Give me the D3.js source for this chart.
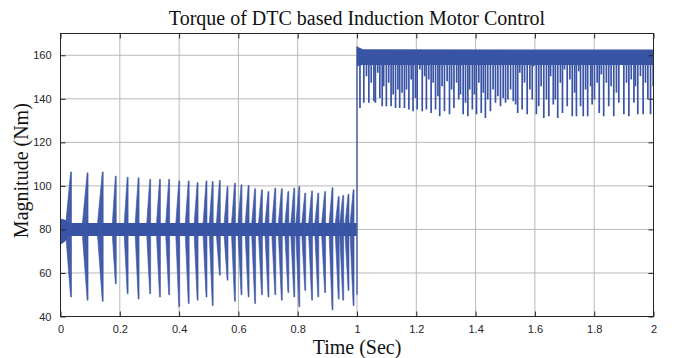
<!DOCTYPE html>
<html>
<head>
<meta charset="utf-8">
<script src="https://cdn.jsdelivr.net/npm/d3@7"></script>
<style>
  html, body { margin: 0; padding: 0; background: #fff; }
  svg { display: block; }
</style>
</head>
<body>
<svg id="chart" width="686" height="358"></svg>
<script>
// ---------------- DATA ----------------
const titleText = "Torque of DTC based Induction Motor Control";
const xLabelText = "Time (Sec)";
const yLabelText = "Magnitude (Nm)";
const xTicks = [0, 0.2, 0.4, 0.6, 0.8, 1, 1.2, 1.4, 1.6, 1.8, 2];
const xTickLabels = ["0", "0.2", "0.4", "0.6", "0.8", "1", "1.2", "1.4", "1.6", "1.8", "2"];
const yTicks = [40, 60, 80, 100, 120, 140, 160];
const xDomain = [0, 2];
const yDomain = [40, 170];

// load 1 (0 - 1 s): steady ripple band around 80 Nm
const band1T  = [0, 0.015, 0.03, 0.999];
const band1Hi = [85, 84.5, 83, 83];
const band1Lo = [73, 74.5, 77, 77];

// periodic flux-sector transients in the first half (time, max, min)
const spike1T  = [0.034, 0.090, 0.141, 0.185, 0.225, 0.262, 0.301, 0.334, 0.365, 0.399, 0.431, 0.461, 0.491,
                  0.512, 0.536, 0.562, 0.587, 0.609, 0.633, 0.655, 0.678, 0.700, 0.723, 0.745, 0.767, 0.787,
                  0.804, 0.824, 0.847, 0.868, 0.891, 0.916, 0.937, 0.952, 0.970, 0.987];
const spike1Hi = [106.4, 106, 106.4, 104.5, 104, 103.7, 103, 103, 103, 102.3, 102.3, 101.5, 102.3,
                  102, 102.5, 99.7, 101.2, 100.5, 100.2, 98.7, 98.2, 97.4, 99, 98.7, 97.4, 99,
                  99.7, 96.7, 97.7, 96.7, 97.4, 99.2, 95.1, 95.6, 96.2, 98.2];
const spike1Lo = [49, 47.5, 47, 55, 50.5, 48, 50.5, 49, 50, 44.5, 46, 47.5, 49,
                  45, 59, 56.7, 47, 50, 49, 46, 50, 49, 50, 47.5, 51, 49,
                  44.5, 52, 47.5, 49, 51, 43, 48, 47.5, 52, 45];

// step of load at t = 1 s
const stepT = 1.0;
const stepFrom = 50;
const stepTo = 164;

// load 2 (1 - 2 s): ripple band around 160 Nm
const band2T  = [1.0, 1.02, 2.0];
const band2Hi = [164, 162.8, 162.6];
const band2Lo = [155, 155.5, 155.5];

// downward ripple spikes in the second half (time, min)
const spike2T = [1.010, 1.023, 1.032, 1.040, 1.048, 1.057, 1.062, 1.070, 1.077, 1.085, 1.090, 1.099, 1.107, 1.115,
  1.122, 1.130, 1.138, 1.144, 1.152, 1.160, 1.167, 1.175, 1.183, 1.189, 1.197, 1.203, 1.212, 1.220, 1.228, 1.234,
  1.242, 1.250, 1.257, 1.265, 1.273, 1.279, 1.287, 1.295, 1.304, 1.312, 1.319, 1.327, 1.336, 1.343, 1.349, 1.358,
  1.366, 1.374, 1.380, 1.389, 1.396, 1.403, 1.411, 1.419, 1.426, 1.433, 1.441, 1.450, 1.459, 1.467, 1.475, 1.484,
  1.493, 1.501,
  1.509, 1.518, 1.527, 1.535, 1.542, 1.549, 1.557, 1.565, 1.574, 1.583, 1.591, 1.596, 1.605, 1.613, 1.621, 1.630,
  1.639, 1.647, 1.653, 1.662, 1.669, 1.677, 1.686, 1.693, 1.700, 1.709, 1.718, 1.726, 1.734, 1.740, 1.748, 1.754,
  1.763, 1.771, 1.778, 1.788, 1.793, 1.801, 1.810, 1.817, 1.824, 1.832, 1.841, 1.849, 1.857, 1.866, 1.875, 1.883,
  1.891, 1.900, 1.909, 1.917, 1.925, 1.934, 1.939, 1.947, 1.956, 1.965, 1.973, 1.981, 1.990, 1.999];
const spike2Lo = [135.8, 138.2, 150.4, 138.2, 147.4, 138.9, 138.2, 152, 140.4, 136.6, 145.8, 136.6, 147.4, 136.6,
  142, 135.8, 144.3, 135.8, 142.8, 135.8, 144.3, 135.1, 148.9, 134.3, 140.4, 135.1, 153.5, 134.3, 150.4, 135.1,
  148.9, 133.5, 147.4, 135.1, 141.2, 132, 145.8, 134.3, 148.1, 132.9, 144.3, 135.8, 147.4, 139.7, 142, 132.9,
  138.2, 132, 144.3, 135.1, 142, 132.9, 147.4, 133.5, 142.8, 131.2, 139.7, 134.3, 144.3, 138.2, 141.2, 136.6,
  140.4, 138.2,
  139.7, 144.3, 138.9, 137.4, 133.5, 152, 135.1, 147.4, 132.9, 144.3, 139.7, 155, 132.9, 136.6, 145.8, 131.2,
  139.7, 132, 150.4, 137.4, 139.7, 131.2, 147.4, 133.5, 153.5, 136.6, 148.9, 132, 142.8, 132, 152.7, 136.6,
  132, 144.3, 132, 145.8, 137.4, 139.7, 147.4, 133.5, 151.2, 132, 147.4, 136.6, 145.8, 132, 142.8, 138.2,
  155.8, 132.9, 147.4, 132, 148.9, 138.2, 145.8, 132.9, 150.4, 132.9, 147.4, 139.7, 132.9, 145.8];

// ---------------- DRAWING ----------------
const W = 686, H = 358;
const margin = { left: 60.5, right: 32.5, top: 33.5, bottom: 41.5 };
const svg = d3.select("#chart");
const innerW = W - margin.left - margin.right;
const innerH = H - margin.top - margin.bottom;

const x = d3.scaleLinear().domain(xDomain).range([margin.left, margin.left + innerW]);
const y = d3.scaleLinear().domain(yDomain).range([margin.top + innerH, margin.top]);

const blue = "#3a54a5";
const gridColor = "#b9b9b9";

// grid
const g = svg.append("g");
g.selectAll(".vg").data(xTicks.slice(1, -1)).enter().append("line")
  .attr("x1", d => x(d)).attr("x2", d => x(d))
  .attr("y1", y(yDomain[0])).attr("y2", y(yDomain[1]))
  .attr("stroke", gridColor).attr("stroke-width", 1);
g.selectAll(".hg").data(yTicks.slice(1)).enter().append("line")
  .attr("x1", x(xDomain[0])).attr("x2", x(xDomain[1]))
  .attr("y1", d => y(d)).attr("y2", d => y(d))
  .attr("stroke", gridColor).attr("stroke-width", 1);

svg.append("defs").append("clipPath").attr("id", "clip")
  .append("rect").attr("x", margin.left).attr("y", margin.top).attr("width", innerW).attr("height", innerH);
const plot = svg.append("g").attr("clip-path", "url(#clip)");

// band 1
const area = d3.area().x(d => x(d.t)).y0(d => y(d.lo)).y1(d => y(d.hi));
plot.append("path")
  .datum(band1T.map((t, i) => ({ t, hi: band1Hi[i], lo: band1Lo[i] })))
  .attr("d", area).attr("fill", blue);

// spikes in first half: rising wedge then abrupt drop
const wedge = 0.010, bar = 0.003;
const line = d3.line().x(d => x(d[0])).y(d => y(d[1]));
spike1T.forEach((t, i) => {
  const hi = spike1Hi[i], lo = spike1Lo[i];
  const w = i < 3 ? 0.016 : wedge;
  const pts = [[t - w, 83], [t, hi], [t + bar, hi], [t + bar, lo], [t, lo], [t - w, 77]];
  plot.append("path").attr("d", line(pts) + "Z").attr("fill", blue).attr("fill-opacity", 0.95)
    .attr("stroke", blue).attr("stroke-width", 0.6);
});

// step
plot.append("line")
  .attr("x1", x(stepT)).attr("x2", x(stepT))
  .attr("y1", y(stepFrom)).attr("y2", y(stepTo))
  .attr("stroke", blue).attr("stroke-width", 1.3);

// band 2
plot.append("path")
  .datum(band2T.map((t, i) => ({ t, hi: band2Hi[i], lo: band2Lo[i] })))
  .attr("d", area).attr("fill", blue);

// spikes second half
plot.selectAll(".s2").data(spike2T.map((t, i) => ({ t, lo: spike2Lo[i] }))).enter().append("line")
  .attr("x1", d => x(d.t)).attr("x2", d => x(d.t))
  .attr("y1", y(157)).attr("y2", d => y(d.lo))
  .attr("stroke", blue).attr("stroke-width", 1.7);

// frame
svg.append("rect").attr("x", margin.left).attr("y", margin.top).attr("width", innerW).attr("height", innerH)
  .attr("fill", "none").attr("stroke", "#262626").attr("stroke-width", 1);

// axes with inner ticks
const xAxis = d3.axisBottom(x).tickValues(xTicks).tickFormat((d, i) => xTickLabels[i]).tickSizeInner(-5).tickSizeOuter(0).tickPadding(9);
const yAxis = d3.axisLeft(y).tickValues(yTicks).tickFormat(d3.format("d")).tickSizeInner(-5).tickSizeOuter(0).tickPadding(9);
const xa = svg.append("g").attr("transform", `translate(0,${margin.top + innerH})`).call(xAxis);
const ya = svg.append("g").attr("transform", `translate(${margin.left},0)`).call(yAxis);
const xTop = svg.append("g").attr("transform", `translate(0,${margin.top})`).call(d3.axisTop(x).tickValues(xTicks).tickSizeInner(-5).tickSizeOuter(0).tickFormat(""));
const yRight = svg.append("g").attr("transform", `translate(${margin.left + innerW},0)`).call(d3.axisRight(y).tickValues(yTicks).tickSizeInner(-5).tickSizeOuter(0).tickFormat(""));
[xa, ya, xTop, yRight].forEach(a => {
  a.select(".domain").remove();
  a.selectAll(".tick line").attr("stroke", "#262626");
  a.selectAll("text").attr("font-family", "'Liberation Sans', Arial, sans-serif").attr("font-size", 11).attr("fill", "#262626");
});

// texts
const serif = "'Liberation Serif', 'Times New Roman', serif";
svg.append("text").attr("x", x(1)).attr("y", 25).attr("text-anchor", "middle")
  .attr("font-family", serif).attr("font-size", 20).attr("fill", "#111")
  .text(titleText);
svg.append("text").attr("x", x(1)).attr("y", 354).attr("text-anchor", "middle")
  .attr("font-family", serif).attr("font-size", 20).attr("fill", "#111")
  .text(xLabelText);
svg.append("text").attr("transform", `translate(28,${y(107)}) rotate(-90)`).attr("text-anchor", "middle")
  .attr("font-family", serif).attr("font-size", 20).attr("fill", "#111")
  .text(yLabelText);
</script>
</body>
</html>
